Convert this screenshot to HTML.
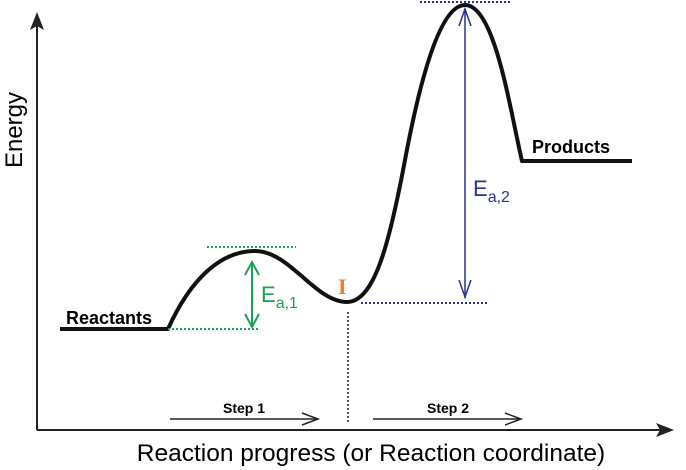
<!DOCTYPE html>
<html><head><style>body{margin:0;background:#fff}svg{display:block}</style></head><body>
<svg width="686" height="470" xmlns="http://www.w3.org/2000/svg" font-family="Liberation Sans, Arial, sans-serif">
<!-- axes -->
<line x1="37" y1="430" x2="37" y2="26" stroke="#222" stroke-width="2"/>
<path d="M30,30 L37,12 L44,30 L37,26 z" fill="#222"/>
<line x1="37" y1="430" x2="660" y2="430" stroke="#222" stroke-width="2"/>
<path d="M656,423 L674,430 L656,437 L660,430 z" fill="#222"/>
<text x="22" y="130" font-size="24" transform="rotate(-90 22 130)" text-anchor="middle">Energy</text>
<text x="371" y="461" font-size="24.5" text-anchor="middle">Reaction progress (or Reaction coordinate)</text>
<!-- curve -->
<path d="M60,329 L168,329 C190,280 220,251 255,251 C290,251 315,302 347,302 C375,302 390,240 405,160 C420,80 440,5 465,5 C495,5 510,110 522,161 L632,161" fill="none" stroke="#111" stroke-width="4" stroke-linejoin="round"/>
<text x="66" y="324" font-size="18" font-weight="bold">Reactants</text>
<text x="532" y="153" font-size="18" font-weight="bold">Products</text>
<!-- green -->
<line x1="207" y1="247" x2="296" y2="247" stroke="#1aa152" stroke-width="2" stroke-dasharray="2,2"/>
<line x1="168" y1="329" x2="260" y2="329" stroke="#1aa152" stroke-width="2" stroke-dasharray="2,2"/>
<line x1="252" y1="263" x2="252" y2="327" stroke="#1aa152" stroke-width="2"/>
<path d="M245,275 L252,262 L259,275 M245,314 L252,327 L259,314" fill="none" stroke="#1aa152" stroke-width="2"/>
<text x="261" y="302" font-size="22" fill="#1aa152">E<tspan font-size="16" dy="6">a,1</tspan></text>
<!-- I -->
<text x="338" y="294" font-size="22" fill="#f07e26" font-weight="bold" font-family="Liberation Serif, serif">I</text>
<line x1="348" y1="312" x2="348" y2="423" stroke="#222" stroke-width="1.5" stroke-dasharray="2,2"/>
<!-- blue -->
<line x1="420" y1="2" x2="512" y2="2" stroke="#2e3192" stroke-width="2" stroke-dasharray="2,2"/>
<line x1="361" y1="303" x2="487" y2="303" stroke="#2e3192" stroke-width="2" stroke-dasharray="2,2"/>
<line x1="465" y1="9" x2="465" y2="298" stroke="#2e3192" stroke-width="1.5"/>
<path d="M459,26 L465,9 L471,26 M459,280 L465,297 L471,280" fill="none" stroke="#2e3192" stroke-width="1.5"/>
<text x="473" y="196" font-size="22" fill="#2e3192">E<tspan font-size="16" dy="6">a,2</tspan></text>
<!-- steps -->
<line x1="170" y1="419" x2="317" y2="419" stroke="#222" stroke-width="1.5"/>
<path d="M302,413 L318,419 L302,425" fill="none" stroke="#222" stroke-width="1.5"/>
<text x="244" y="413" font-size="14" font-weight="bold" text-anchor="middle">Step 1</text>
<line x1="373" y1="419" x2="520" y2="419" stroke="#222" stroke-width="1.5"/>
<path d="M505,413 L521,419 L505,425" fill="none" stroke="#222" stroke-width="1.5"/>
<text x="448" y="413" font-size="14" font-weight="bold" text-anchor="middle">Step 2</text>
</svg>
</body></html>
